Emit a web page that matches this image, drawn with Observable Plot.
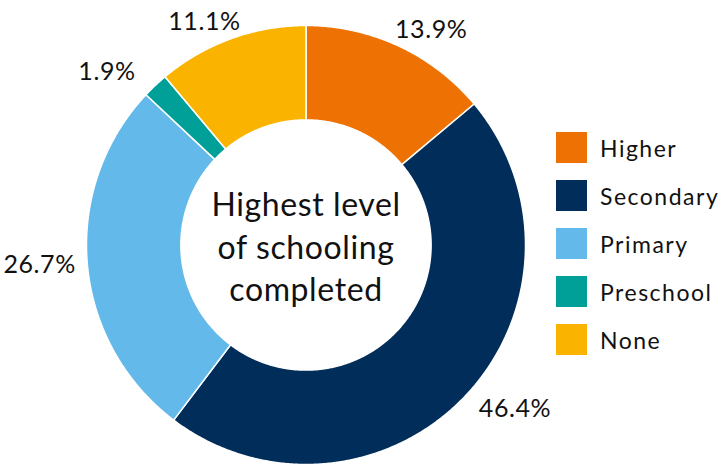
<!DOCTYPE html>
<html>
<head>
<meta charset="utf-8">
<script src="https://cdn.jsdelivr.net/npm/d3@7"></script>
<script src="https://cdn.jsdelivr.net/npm/@observablehq/plot@0.6"></script>
<style>
  html, body { margin: 0; padding: 0; background: #fff; }
  #wrap { position: relative; width: 723px; height: 465px; font-family: Lato, "Noto Sans", sans-serif; }
  #wrap svg text { letter-spacing: 0.6px; }
  #legend { position: absolute; left: 556px; top: 132px; }
  .item { display: flex; align-items: center; height: 31px; margin-bottom: 17px; }
  .sw { width: 31px; height: 31px; margin-right: 13px; }
  .lab { font-size: 23px; color: #111; letter-spacing: 1.5px; }
</style>
</head>
<body>
<div id="wrap"></div>
<script>
const categories = ["Higher", "Secondary", "Primary", "Preschool", "None"];
const values = [13.9, 46.4, 26.7, 1.9, 11.1];
const colors = ["#EE7203", "#002D5A", "#63B9E9", "#00A099", "#FAB400"];
const centerTitle = ["Highest level", "of schooling", "completed"];

const table = categories.map((c, i) => ({category: c, value: values[i]}));
const arcs = d3.pie().sort(null).value(d => d.value)(table);

const R = 1, r0 = 0.57;
// slice outlines (geometry sampled along each arc)
const outline = [];
for (const a of arcs) {
  const n = Math.max(2, Math.ceil((a.endAngle - a.startAngle) / 0.008));
  for (let k = 0; k <= n; k++) {
    const t = a.startAngle + (a.endAngle - a.startAngle) * k / n;
    outline.push({category: a.data.category, x: R * Math.sin(t), y: R * Math.cos(t)});
  }
  for (let k = n; k >= 0; k--) {
    const t = a.startAngle + (a.endAngle - a.startAngle) * k / n;
    outline.push({category: a.data.category, x: r0 * Math.sin(t), y: r0 * Math.cos(t)});
  }
}

// labels outside each slice, at its middle angle (wider reach horizontally for text width)
const labels = arcs.map(a => {
  const m = (a.startAngle + a.endAngle) / 2;
  const rx = (265 + 35 * Math.abs(Math.cos(m))) / 220, ry = 238 / 220;
  return {x: rx * Math.sin(m), y: ry * Math.cos(m), text: a.data.value.toFixed(1) + "%"};
});

const chart = Plot.plot({
  width: 723,
  height: 465,
  marginLeft: 86,
  marginRight: 198,
  marginTop: 25,
  marginBottom: 1,
  x: {domain: [-1, 1], axis: null},
  y: {domain: [-1, 1], axis: null},
  color: {domain: categories, range: colors},
  style: {fontFamily: "Lato, 'Noto Sans', sans-serif", background: "white", overflow: "visible"},
  marks: [
    Plot.line(outline, {x: "x", y: "y", z: "category", fill: "category", stroke: "white", strokeWidth: 1.5, curve: "linear-closed"}),
    Plot.text(labels, {x: "x", y: "y", text: "text", fontSize: 25, fill: "#111"}),
    Plot.text([centerTitle.join("\n")], {text: d => d, x: () => 0, y: () => 0, fontSize: 32, lineHeight: 1.33, fill: "#111"})
  ]
});

const wrap = document.getElementById("wrap");
wrap.appendChild(chart);
const legend = document.createElement("div");
legend.id = "legend";
categories.forEach((c, i) => {
  const it = document.createElement("div");
  it.className = "item";
  it.innerHTML = `<div class="sw" style="background:${colors[i]}"></div><span class="lab">${c}</span>`;
  legend.appendChild(it);
});
wrap.appendChild(legend);
</script>
</body>
</html>
